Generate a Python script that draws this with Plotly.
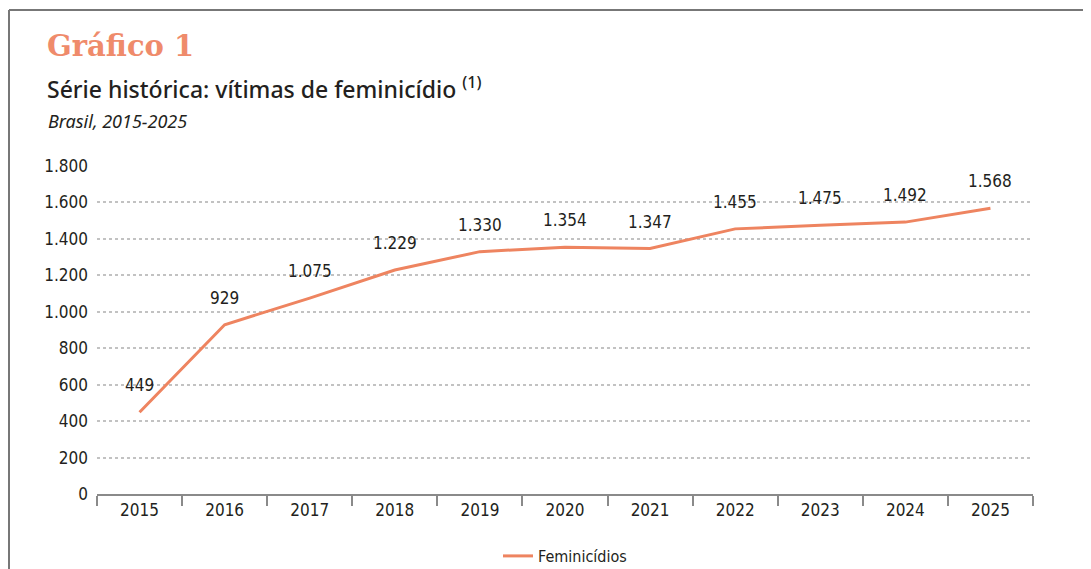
import plotly.graph_objects as go

anos = ["2015", "2016", "2017", "2018", "2019", "2020", "2021", "2022", "2023", "2024", "2025"]
feminicidios = [449, 929, 1075, 1229, 1330, 1354, 1347, 1455, 1475, 1492, 1568]
y_ticks = [0, 200, 400, 600, 800, 1000, 1200, 1400, 1600, 1800]
y_tick_labels = ["0", "200", "400", "600", "800", "1.000", "1.200", "1.400", "1.600", "1.800"]
rotulos = ["449", "929", "1.075", "1.229", "1.330", "1.354", "1.347", "1.455", "1.475", "1.492", "1.568"]

COND = "DejaVu Sans Condensed, Liberation Sans Narrow, Roboto, sans-serif"
LINE_COLOR = "#EE8460"
TEXT = "#231f20"

OFF = 8  # page body margin
W, H = 1091, 569
L, R, T, B = 97 - OFF, 1033 - OFF, 166 - OFF, 494 - OFF

def px_x(px):
    return (px - OFF - L) / (R - L)

def px_y(py):
    return (B - (py - OFF)) / (B - T)

fig = go.Figure()
fig.add_trace(go.Scatter(
    x=anos, y=feminicidios, mode="lines", name="Feminicídios",
    line=dict(color=LINE_COLOR, width=3),
))

for i, (v, t) in enumerate(zip(feminicidios, rotulos)):
    fig.add_annotation(x=i, y=v, xref="x", yref="y", text=t, showarrow=False, yshift=27,
                       font=dict(family=COND, size=17, color=TEXT))

# headings
fig.add_annotation(xref="paper", yref="paper", x=px_x(45), y=px_y(46), text="Gráfico 1",
                   showarrow=False, xanchor="left", yanchor="middle",
                   font=dict(family="DejaVu Serif, serif", size=29, color="#EF8B6B", weight="bold"))
fig.add_annotation(xref="paper", yref="paper", x=px_x(45), y=px_y(88),
                   text="Série histórica: vítimas de feminicídio <sup>(1)</sup>",
                   showarrow=False, xanchor="left", yanchor="middle",
                   font=dict(family="Noto Sans, sans-serif", size=23, color=TEXT, weight=500))
fig.add_annotation(xref="paper", yref="paper", x=px_x(46), y=px_y(121),
                   text="<i>Brasil, 2015-2025</i>",
                   showarrow=False, xanchor="left", yanchor="middle",
                   font=dict(family="Noto Sans, sans-serif", size=18, color=TEXT))

# frame
fig.add_shape(type="line", xref="paper", yref="paper", x0=px_x(9), x1=px_x(1100),
              y0=px_y(10), y1=px_y(10), line=dict(color="#777777", width=2))
fig.add_shape(type="line", xref="paper", yref="paper", x0=px_x(9), x1=px_x(9),
              y0=px_y(10), y1=px_y(580), line=dict(color="#777777", width=2))

fig.update_layout(
    width=W, height=H,
    margin=dict(l=L, r=W - R, t=T, b=H - B, autoexpand=False),
    paper_bgcolor="white", plot_bgcolor="white",
    showlegend=True,
    legend=dict(orientation="h", x=0.5, xanchor="center", y=px_y(556), yanchor="middle",
                font=dict(family=COND, size=16, color=TEXT)),
    xaxis=dict(type="category", tickson="boundaries", ticks="outside", ticklen=10,
               tickcolor="#8a8a8a", tickwidth=2, showline=True, linecolor="#8a8a8a", linewidth=2,
               showgrid=False, tickfont=dict(family=COND, size=17, color=TEXT),
               range=[-0.5, 10.5]),
    yaxis=dict(range=[0, 1800], tickvals=y_ticks, ticktext=y_tick_labels,
               showgrid=True, gridcolor="#c2c2c2", griddash="dot", gridwidth=1.5,
               zeroline=False, ticks="", ticklabelstandoff=8,
               tickfont=dict(family=COND, size=17, color=TEXT)),
)

fig.write_html("out.html")
